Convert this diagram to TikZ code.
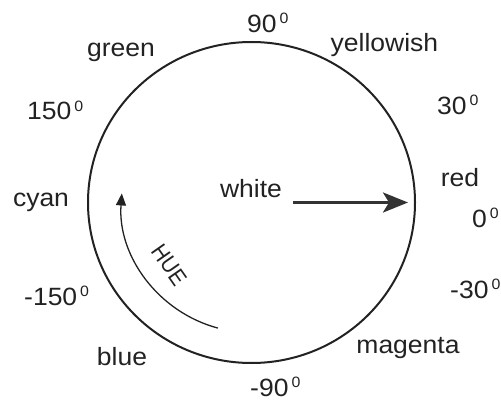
\documentclass[tikz,border=0pt]{standalone}
\usepackage{fontspec}
\setmainfont{Liberation Sans}[FakeStretch=1.06]
\newfontfamily\huefont{Liberation Sans}[FakeStretch=0.9]
\usetikzlibrary{arrows.meta}
\definecolor{ink}{HTML}{222222}
\definecolor{arrowink}{HTML}{333333}
\newcommand\dg{\hspace{3pt}\raisebox{9pt}{\fontsize{15}{15}\selectfont 0}}
\begin{document}
\begin{tikzpicture}[x=1pt,y=1pt,
  lbl/.style={inner sep=0pt, text=ink, font=\fontsize{25}{30}\selectfont},
  huelbl/.style={inner sep=0pt, text=ink, font=\huefont\fontsize{23}{23}\selectfont},
  deg/.style={lbl, anchor=base west},
  wheel/.style={draw=ink, line width=2pt},
  huearc/.style={draw=ink, line width=1.3pt, -{Triangle[length=12pt,width=10pt]}},
  mainarrow/.style={draw=arrowink, line width=3pt, -{Stealth[length=25pt,width=20pt,inset=6pt]}}]
\useasboundingbox (0,0) rectangle (501,400);
\coordinate (c) at (251.5,197.5);
\draw[wheel] (c) ellipse [x radius=163.5, y radius=160.5];
% word labels
\node[lbl] (green) at (121,347.5) {green};
\node[lbl] (yellowish) at (384.5,355) {yellowish};
\node[lbl] (red) at (460,222.5) {red};
\node[lbl] (cyan) at (41,197.5) {cyan};
\node[lbl] (white) at (251,211.5) {white};
\node[lbl] (blue) at (122,43.5) {blue};
\node[lbl] (magenta) at (408,52) {magenta};
% degree labels
\node[deg] (d90) at (247,367) {90\dg};
\node[deg] (d30) at (437,286) {30\dg};
\node[deg] (d150) at (27,280) {150\dg};
\node[deg] (d0) at (472,173) {0\dg};
\node[deg] (dm30) at (450,102) {-30\dg};
\node[deg] (dm150) at (24,95) {-150\dg};
\node[deg] (dm90) at (250,4) {-90\dg};
% main arrow
\coordinate (tail) at (293,197.5);
\coordinate (tip) at (408,197.5);
\draw[mainarrow] (tail) -- (tip);
% hue arc
\draw[huearc] (c) ++(255:130) arc[start angle=255, end angle=176, radius=130];
\node[huelbl, rotate=-55] (hue) at (169.5,135) {HUE};
\end{tikzpicture}
\end{document}
